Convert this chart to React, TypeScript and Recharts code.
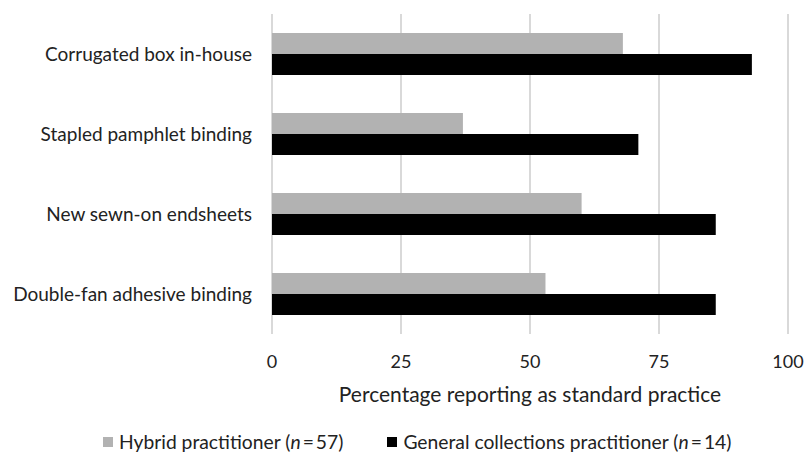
import { Bar, BarChart, CartesianGrid, XAxis, YAxis } from "recharts";

const categories = [
  "Corrugated box in-house",
  "Stapled pamphlet binding",
  "New sewn-on endsheets",
  "Double-fan adhesive binding",
];
const hybridValues = [68, 37, 60, 53];
const generalValues = [93, 71, 86, 86];
const xTicks = [0, 25, 50, 75, 100];

const FONT = "Lato, 'Open Sans', sans-serif";
const TEXT = "#222";
const HYBRID = "#b2b2b2";
const GENERAL = "#000000";

const chartData = categories.map((name, i) => ({
  name,
  hybrid: hybridValues[i],
  general: generalValues[i],
}));

function LegendItem({ color, label, n }: { color: string; label: string; n: number }) {
  return (
    <span style={{ display: "inline-flex", alignItems: "center" }}>
      <span
        style={{ width: 10, height: 10, background: color, marginRight: 6, display: "inline-block" }}
      />
      {label} (<i>n</i>
      <span style={{ margin: "0 2px" }}>=</span>
      {n})
    </span>
  );
}

export default function App() {
  return (
    <div
      style={{
        position: "absolute",
        left: 0,
        top: 0,
        width: 804,
        height: 453,
        background: "#fff",
        fontFamily: FONT,
      }}
    >
      <BarChart
        width={804}
        height={453}
        data={chartData}
        layout="vertical"
        barSize={21}
        barGap={0}
        margin={{ top: 14, right: 16, left: 0, bottom: 33 }}
      >
        <CartesianGrid horizontal={false} stroke="#d9d9d9" strokeWidth={2} />
        <XAxis
          type="number"
          domain={[0, 100]}
          ticks={xTicks}
          height={86}
          tickLine={false}
          axisLine={false}
          tickMargin={15}
          tick={{ fill: TEXT, fontSize: 18, fontFamily: FONT }}
          label={{
            value: "Percentage reporting as standard practice",
            position: "insideBottom",
            offset: 18,
            fill: TEXT,
            fontSize: 21,
            fontFamily: FONT,
          }}
        />
        <YAxis
          type="category"
          dataKey="name"
          width={272}
          tickLine={false}
          axisLine={false}
          tickMargin={14}
          tick={{ fill: TEXT, fontSize: 19, fontFamily: FONT }}
        />
        <Bar dataKey="hybrid" fill={HYBRID} isAnimationActive={false} />
        <Bar dataKey="general" fill={GENERAL} isAnimationActive={false} />
      </BarChart>
      <div
        style={{
          position: "absolute",
          left: 103,
          top: 430,
          display: "flex",
          gap: 44,
          fontSize: 19.3,
          color: TEXT,
          lineHeight: "24px",
          whiteSpace: "nowrap",
        }}
      >
        <LegendItem color={HYBRID} label="Hybrid practitioner" n={57} />
        <LegendItem color={GENERAL} label="General collections practitioner" n={14} />
      </div>
    </div>
  );
}
